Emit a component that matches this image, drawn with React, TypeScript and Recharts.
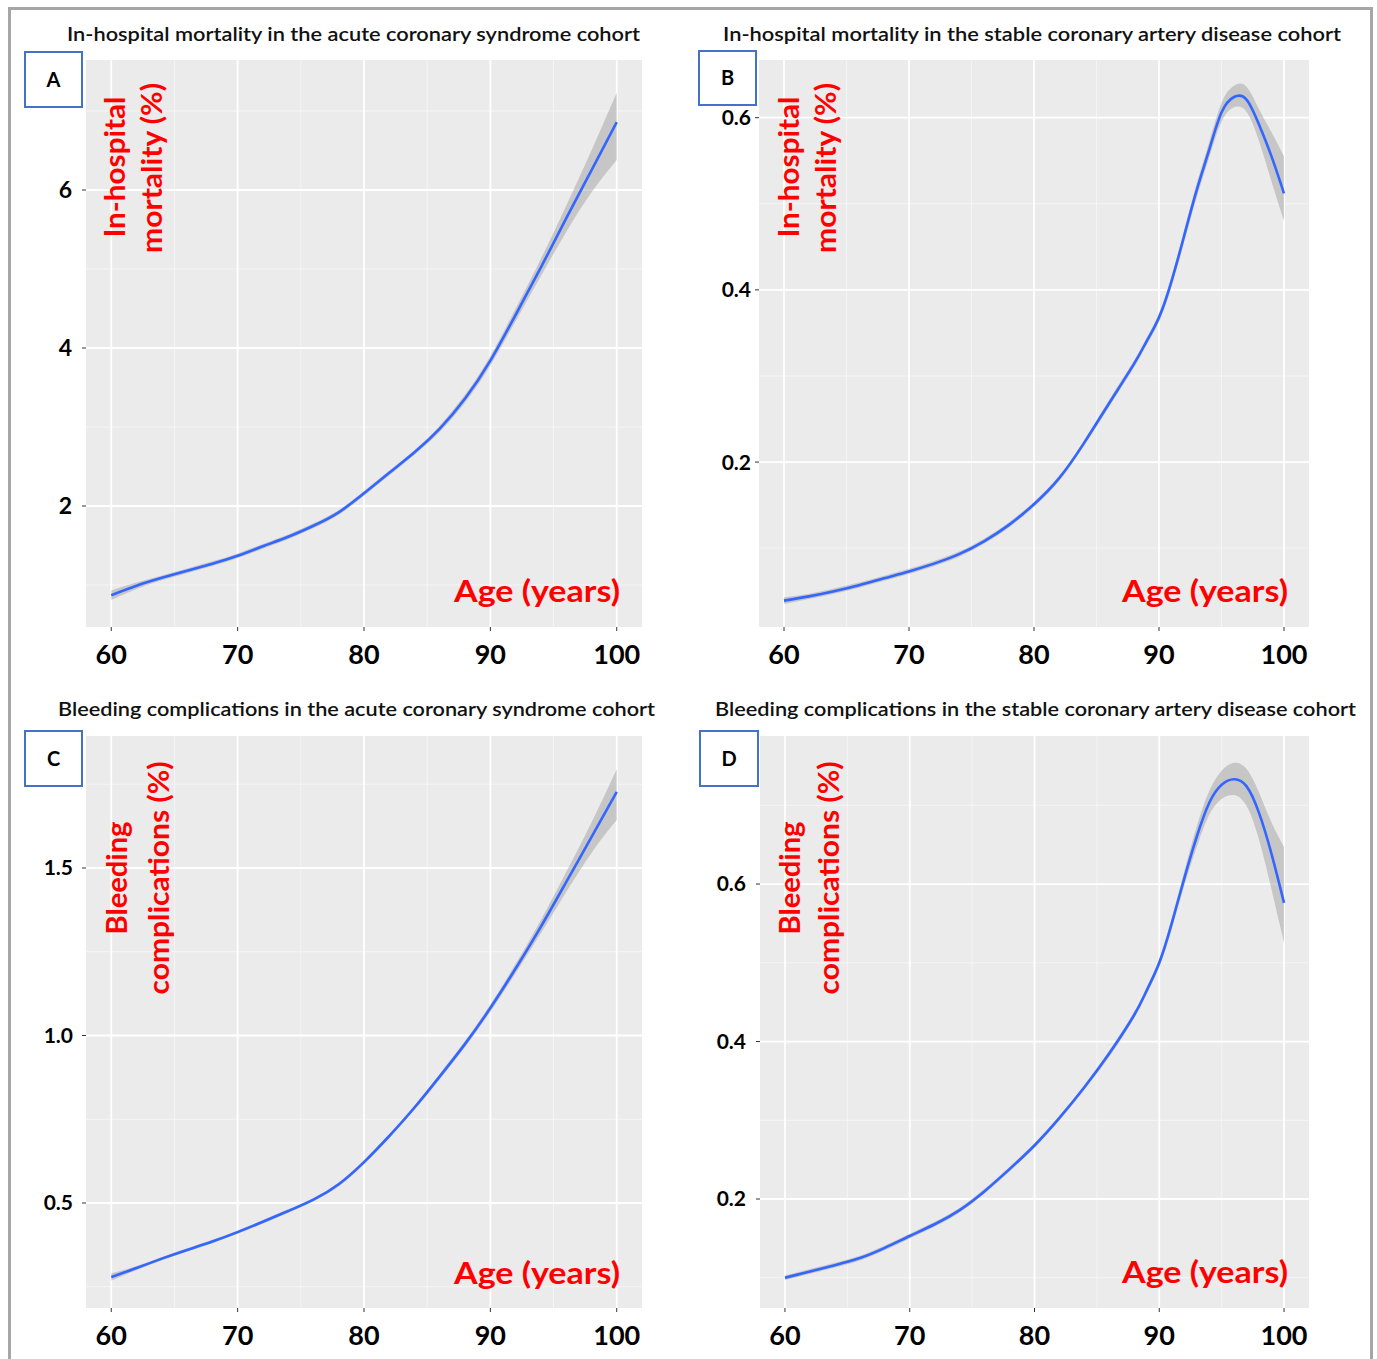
import React from 'react'
import { ComposedChart, Area, Line, XAxis, YAxis, CartesianGrid } from 'recharts'

const agesAC = [60, 62, 64, 66, 68, 70, 72, 74, 76, 78, 80, 82, 84, 86, 88, 90, 92, 94, 96, 98, 100]
const agesBD = [60, 62, 64, 66, 68, 70, 72, 74, 76, 78, 80, 82, 84, 86, 88, 89, 90, 91, 92, 93, 94, 95, 96, 97, 98, 99, 100]

// A: in-hospital mortality, ACS
const fitA = [0.87, 0.99, 1.09, 1.18, 1.27, 1.37, 1.49, 1.61, 1.75, 1.92, 2.16, 2.42, 2.68, 2.98, 3.36, 3.84, 4.42, 5.02, 5.64, 6.25, 6.86]
const lowA = [0.81, 0.95, 1.06, 1.15, 1.24, 1.34, 1.46, 1.58, 1.72, 1.89, 2.13, 2.39, 2.65, 2.94, 3.31, 3.78, 4.34, 4.91, 5.47, 5.97, 6.38]
const highA = [0.93, 1.03, 1.12, 1.21, 1.3, 1.4, 1.52, 1.64, 1.78, 1.95, 2.19, 2.45, 2.71, 3.02, 3.41, 3.9, 4.5, 5.13, 5.8, 6.5, 7.23]

// B: in-hospital mortality, stable CAD
const fitB = [0.039, 0.044, 0.05, 0.057, 0.065, 0.073, 0.082, 0.093, 0.108, 0.127, 0.151, 0.181, 0.222, 0.268, 0.314, 0.34, 0.368, 0.41, 0.462, 0.515, 0.562, 0.606, 0.624, 0.621, 0.592, 0.555, 0.512]
const lowB = [0.035, 0.041, 0.047, 0.054, 0.062, 0.07, 0.079, 0.09, 0.105, 0.124, 0.148, 0.178, 0.219, 0.264, 0.31, 0.336, 0.363, 0.404, 0.455, 0.507, 0.553, 0.595, 0.612, 0.607, 0.573, 0.526, 0.48]
const highB = [0.043, 0.047, 0.053, 0.06, 0.068, 0.076, 0.085, 0.096, 0.111, 0.13, 0.154, 0.184, 0.225, 0.272, 0.318, 0.344, 0.373, 0.416, 0.469, 0.523, 0.571, 0.617, 0.637, 0.636, 0.61, 0.583, 0.555]

// C: bleeding complications, ACS
const fitC = [0.279, 0.306, 0.334, 0.36, 0.385, 0.413, 0.444, 0.476, 0.51, 0.556, 0.622, 0.7, 0.785, 0.878, 0.975, 1.082, 1.2, 1.325, 1.458, 1.592, 1.727]
const lowC = [0.268, 0.3, 0.329, 0.355, 0.38, 0.408, 0.439, 0.471, 0.505, 0.55, 0.616, 0.694, 0.778, 0.87, 0.966, 1.071, 1.186, 1.305, 1.428, 1.545, 1.643]
const highC = [0.29, 0.312, 0.339, 0.365, 0.39, 0.418, 0.449, 0.481, 0.515, 0.562, 0.628, 0.706, 0.792, 0.886, 0.984, 1.093, 1.214, 1.345, 1.488, 1.636, 1.795]

// D: bleeding complications, stable CAD
const fitD = [0.1, 0.108, 0.116, 0.125, 0.138, 0.153, 0.168, 0.186, 0.21, 0.238, 0.268, 0.303, 0.342, 0.385, 0.434, 0.465, 0.5, 0.55, 0.607, 0.66, 0.703, 0.726, 0.733, 0.724, 0.69, 0.638, 0.576]
const lowD = [0.097, 0.105, 0.113, 0.122, 0.135, 0.15, 0.165, 0.183, 0.207, 0.235, 0.265, 0.3, 0.339, 0.381, 0.43, 0.461, 0.495, 0.543, 0.598, 0.647, 0.688, 0.708, 0.713, 0.699, 0.656, 0.593, 0.525]
const highD = [0.103, 0.111, 0.119, 0.128, 0.141, 0.156, 0.171, 0.189, 0.213, 0.241, 0.271, 0.306, 0.345, 0.389, 0.438, 0.469, 0.505, 0.557, 0.616, 0.673, 0.718, 0.744, 0.754, 0.746, 0.716, 0.678, 0.647]

const xTicks = [60, 70, 80, 90, 100]
const xMinor = [65, 75, 85, 95]

const yTicksA = [2, 4, 6]
const yMinorA = [1, 3, 5, 7]
const yTicksB = [0.2, 0.4, 0.6]
const yMinorB = [0.1, 0.3, 0.5]
const yTicksC = [0.5, 1.0, 1.5]
const yMinorC = [0.25, 0.75, 1.25, 1.75]
const yTicksD = [0.2, 0.4, 0.6]
const yMinorD = [0.1, 0.3, 0.5, 0.7]

const titles = [
  'In-hospital mortality in the acute coronary syndrome cohort',
  'In-hospital mortality in the stable coronary artery disease cohort',
  'Bleeding complications in the acute coronary syndrome cohort',
  'Bleeding complications in the stable coronary artery disease cohort',
]

const build = (ages: number[], fit: number[], low: number[], high: number[]) =>
  ages.map((age, i) => ({ age, fit: fit[i], band: [low[i], high[i]] }))

const FONT = 'Lato, "Open Sans", sans-serif'
const AXIS_W = 80

interface PanelProps {
  data: any[]
  left: number
  top: number
  width: number
  height: number
  domain: [number, number]
  ticks: number[]
  minor: number[]
  decimals: number
  yMargin: number
  yFont: number
}

const Panel = ({ data, left, top, width, height, domain, ticks, minor, decimals, yMargin, yFont }: PanelProps) => (
  <div style={{ position: 'absolute', left: left - AXIS_W, top }}>
    <ComposedChart width={AXIS_W + width} height={height + 50} data={data} margin={{ top: 0, right: 0, bottom: 0, left: 0 }}>
      <CartesianGrid fill="#ebebeb" stroke="#f6f6f6" strokeWidth={0.9} horizontalValues={minor} verticalValues={xMinor} />
      <CartesianGrid stroke="#ffffff" strokeWidth={1.8} horizontalValues={ticks} verticalValues={xTicks} />
      <XAxis
        type="number"
        dataKey="age"
        domain={[58, 102]}
        ticks={xTicks}
        allowDataOverflow
        axisLine={false}
        tickLine={{ stroke: '#333333' }}
        tickSize={4}
        tickMargin={14}
        height={50}
        tick={{ fill: '#000', fontSize: 27, fontWeight: 700, fontFamily: FONT }}
      />
      <YAxis
        type="number"
        domain={domain}
        ticks={ticks}
        allowDataOverflow
        axisLine={false}
        tickLine={{ stroke: '#333333' }}
        tickSize={4}
        tickMargin={yMargin}
        width={AXIS_W}
        tickFormatter={(v: number) => v.toFixed(decimals)}
        tick={{ fill: '#000', fontSize: yFont, fontWeight: 700, fontFamily: FONT }}
      />
      <Area dataKey="band" type="natural" fill="#999999" fillOpacity={0.45} stroke="none" isAnimationActive={false} />
      <Line dataKey="fit" type="natural" stroke="#3366ff" strokeWidth={2.6} dot={false} isAnimationActive={false} />
    </ComposedChart>
  </div>
)

const PanelBox = ({ x, y, w, h, label }: { x: number; y: number; w: number; h: number; label: string }) => (
  <g>
    <rect x={x} y={y} width={w} height={h} fill="#fff" stroke="#4472c4" strokeWidth={2} />
    <text x={x + w / 2} y={y + h / 2 + 7} textAnchor="middle" fontSize={20} fontWeight={700} fontFamily={FONT} fill="#000">
      {label}
    </text>
  </g>
)

const RedV = ({ x, y, len, children }: { x: number; y: number; len: number; children: string }) => (
  <text
    transform={`translate(${x},${y}) rotate(-90)`}
    textAnchor="middle"
    fontSize={28}
    fontWeight={700}
    fontFamily={FONT}
    fill="#ff0000"
    textLength={len}
    lengthAdjust="spacingAndGlyphs"
  >
    {children}
  </text>
)

const AgeLabel = ({ x, y }: { x: number; y: number }) => (
  <text x={x} y={y} fontSize={31} fontWeight={700} fontFamily={FONT} fill="#ff0000" textLength={166} lengthAdjust="spacingAndGlyphs">
    Age (years)
  </text>
)

const Title = ({ x, y, len, children }: { x: number; y: number; len: number; children: string }) => (
  <text x={x} y={y} fontSize={20} fontWeight={600} fontFamily={FONT} fill="#111" textLength={len} lengthAdjust="spacingAndGlyphs">
    {children}
  </text>
)

export default function App() {
  return (
    <div style={{ position: 'absolute', left: 0, top: 0, width: 1377, height: 1359, background: '#fff', overflow: 'hidden' }}>
      <Panel data={build(agesAC, fitA, lowA, highA)} left={86} top={60} width={556} height={567} domain={[0.468, 7.646]} ticks={yTicksA} minor={yMinorA} decimals={0} yMargin={10} yFont={23} />
      <Panel data={build(agesBD, fitB, lowB, highB)} left={759} top={60} width={550} height={567} domain={[0.0084, 0.667]} ticks={yTicksB} minor={yMinorB} decimals={1} yMargin={4} yFont={21} />
      <Panel data={build(agesAC, fitC, lowC, highC)} left={86} top={736} width={556} height={572} domain={[0.1866, 1.894]} ticks={yTicksC} minor={yMinorC} decimals={1} yMargin={9} yFont={21} />
      <Panel data={build(agesBD, fitD, lowD, highD)} left={760} top={736} width={549} height={572} domain={[0.0616, 0.788]} ticks={yTicksD} minor={yMinorD} decimals={1} yMargin={10} yFont={21} />

      <svg width={1377} height={1359} style={{ position: 'absolute', left: 0, top: 0, pointerEvents: 'none' }}>
        <path d="M9.5 1359 L9.5 8.5 L1371.5 8.5 L1371.5 1359" fill="none" stroke="#a6a6a6" strokeWidth={3} />

        <Title x={67} y={41} len={573}>{titles[0]}</Title>
        <Title x={723} y={41} len={618}>{titles[1]}</Title>
        <Title x={58} y={716} len={597}>{titles[2]}</Title>
        <Title x={715} y={716} len={641}>{titles[3]}</Title>

        <PanelBox x={25} y={52} w={57} h={55} label="A" />
        <PanelBox x={699} y={51} w={57} h={54} label="B" />
        <PanelBox x={25} y={731} w={57} h={55} label="C" />
        <PanelBox x={700} y={731} w={58} h={55} label="D" />

        <RedV x={125} y={167} len={141}>In-hospital</RedV>
        <RedV x={162} y={168} len={170}>mortality (%)</RedV>
        <RedV x={799} y={167} len={141}>In-hospital</RedV>
        <RedV x={836} y={168} len={170}>mortality (%)</RedV>
        <RedV x={127} y={878} len={113}>Bleeding</RedV>
        <RedV x={169} y={878} len={233}>complications (%)</RedV>
        <RedV x={800} y={878} len={113}>Bleeding</RedV>
        <RedV x={839} y={878} len={233}>complications (%)</RedV>

        <AgeLabel x={454} y={602} />
        <AgeLabel x={1122} y={602} />
        <AgeLabel x={454} y={1284} />
        <AgeLabel x={1122} y={1283} />
      </svg>
    </div>
  )
}
